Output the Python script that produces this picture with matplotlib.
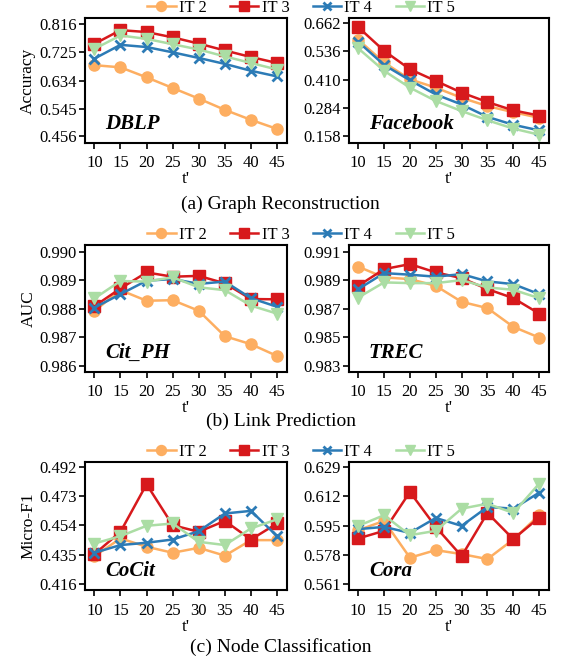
import matplotlib
matplotlib.use("Agg")
import matplotlib.pyplot as plt

plt.rcParams['font.family'] = ['Liberation Serif', 'DejaVu Serif']

t = [10, 15, 20, 25, 30, 35, 40, 45]
series = ['IT 2', 'IT 3', 'IT 4', 'IT 5']

# Graph reconstruction (accuracy)
dblp = {
    'IT 2': [0.684, 0.677, 0.645, 0.611, 0.577, 0.541, 0.509, 0.480],
    'IT 3': [0.752, 0.796, 0.790, 0.773, 0.753, 0.731, 0.710, 0.691],
    'IT 4': [0.705, 0.749, 0.742, 0.725, 0.707, 0.688, 0.666, 0.648],
    'IT 5': [0.736, 0.779, 0.768, 0.751, 0.734, 0.712, 0.691, 0.670],
}
facebook = {
    'IT 2': [0.587, 0.486, 0.411, 0.374, 0.329, 0.292, 0.265, 0.240],
    'IT 3': [0.643, 0.538, 0.456, 0.404, 0.352, 0.310, 0.273, 0.250],
    'IT 4': [0.578, 0.475, 0.407, 0.344, 0.299, 0.244, 0.209, 0.184],
    'IT 5': [0.549, 0.449, 0.374, 0.315, 0.270, 0.229, 0.192, 0.165],
}
# Link prediction (AUC)
cit_ph = {
    'IT 2': [0.98792, 0.98865, 0.98828, 0.98830, 0.98793, 0.98704, 0.98676, 0.98635],
    'IT 3': [0.98809, 0.98871, 0.98927, 0.98912, 0.98915, 0.98889, 0.98834, 0.98833],
    'IT 4': [0.98804, 0.98851, 0.98898, 0.98904, 0.98887, 0.98895, 0.98837, 0.98807],
    'IT 5': [0.98836, 0.98897, 0.98895, 0.98910, 0.98875, 0.98865, 0.98811, 0.98783],
}
trec = {
    'IT 2': [0.98995, 0.98920, 0.98908, 0.98861, 0.98749, 0.98705, 0.98574, 0.98499],
    'IT 3': [0.98861, 0.98978, 0.99013, 0.98955, 0.98915, 0.98838, 0.98775, 0.98667],
    'IT 4': [0.98838, 0.98950, 0.98939, 0.98925, 0.98943, 0.98892, 0.98873, 0.98803],
    'IT 5': [0.98779, 0.98885, 0.98880, 0.98880, 0.98901, 0.98850, 0.98833, 0.98775],
}
# Node classification (Micro-F1)
cocit = {
    'IT 2': [0.4341, 0.4456, 0.4402, 0.4363, 0.4395, 0.4344, 0.4445, 0.4445],
    'IT 3': [0.4354, 0.4499, 0.4808, 0.4542, 0.4499, 0.4570, 0.4449, 0.4553],
    'IT 4': [0.4363, 0.4413, 0.4428, 0.4449, 0.4503, 0.4618, 0.4635, 0.4471],
    'IT 5': [0.4423, 0.4471, 0.4538, 0.4553, 0.4434, 0.4413, 0.4521, 0.4580],
}
cora = {
    'IT 2': [0.5923, 0.5977, 0.5763, 0.5807, 0.5784, 0.5755, 0.5869, 0.6010],
    'IT 3': [0.5875, 0.5919, 0.6145, 0.5942, 0.5772, 0.6023, 0.5871, 0.5996],
    'IT 4': [0.5929, 0.5942, 0.5907, 0.5994, 0.5948, 0.6058, 0.6048, 0.6141],
    'IT 5': [0.5948, 0.6010, 0.5894, 0.5919, 0.6048, 0.6077, 0.6023, 0.6193],
}

colors = {'IT 2': '#fdae61', 'IT 3': '#d7191c', 'IT 4': '#2c7bb6', 'IT 5': '#abdda4'}
markers = {'IT 2': 'o', 'IT 3': 's', 'IT 4': 'x', 'IT 5': 'v'}

panels = [
    # data, name, yticks, yticklabels, ylim, ylabel, rect
    (dblp, 'DBLP', [0.456, 0.545, 0.634, 0.725, 0.816], ['0.456', '0.545', '0.634', '0.725', '0.816'],
     (0.435, 0.835), 'Accuracy', [0.1515, 0.7827, 0.360, 0.190]),
    (facebook, 'Facebook', [0.158, 0.284, 0.410, 0.536, 0.662], ['0.158', '0.284', '0.410', '0.536', '0.662'],
     (0.128, 0.684), None, [0.622, 0.7827, 0.3565, 0.190]),
    (cit_ph, 'Cit_PH', [0.986, 0.987, 0.988, 0.989, 0.990], ['0.986', '0.987', '0.988', '0.989', '0.990'],
     (0.98579, 0.99023), 'AUC', [0.1515, 0.4347, 0.360, 0.193]),
    (trec, 'TREC', [0.983, 0.985, 0.987, 0.989, 0.991], ['0.983', '0.985', '0.987', '0.989', '0.991'],
     (0.98258, 0.99147), None, [0.622, 0.4347, 0.3565, 0.193]),
    (cocit, 'CoCit', [0.416, 0.435, 0.454, 0.473, 0.492], ['0.416', '0.435', '0.454', '0.473', '0.492'],
     (0.4121, 0.4952), 'Micro-F1', [0.1515, 0.1033, 0.360, 0.1945]),
    (cora, 'Cora', [0.561, 0.578, 0.595, 0.612, 0.629], ['0.561', '0.578', '0.595', '0.612', '0.629'],
     (0.5575, 0.6319), None, [0.622, 0.1033, 0.3565, 0.1945]),
]

fig = plt.figure(figsize=(5.61, 6.58), dpi=100)

for data, name, yt, ytl, ylim, ylabel, rect in panels:
    ax = fig.add_axes(rect)
    for s in series:
        ms = 8 if markers[s] != 'x' else 7
        ax.plot(t, data[s], color=colors[s], marker=markers[s], markersize=ms,
                linewidth=1.8, markeredgewidth=2 if markers[s] == 'x' else 1, label=s)
    ax.set_xlim(8.2, 46.9)
    ax.set_ylim(*ylim)
    ax.set_xticks(t)
    ax.set_yticks(yt)
    ax.set_yticklabels(ytl)
    ax.tick_params(labelsize=12, length=4, width=1.2, direction='out', pad=2)
    ax.tick_params(axis='x', pad=5)
    for sp in ax.spines.values():
        sp.set_linewidth(1.5)
    ax.set_xlabel("t'", fontsize=12.5, labelpad=0)
    if ylabel:
        ax.set_ylabel(ylabel, fontsize=12.5, labelpad=2)
    ax.text(0.10, 0.07, name, transform=ax.transAxes, fontsize=15,
            fontweight='bold', fontstyle='italic', ha='left', va='bottom')

handles, labels = fig.axes[0].get_legend_handles_labels()
for y in [0.988, 0.643, 0.313]:
    fig.legend(handles, labels, loc='center', bbox_to_anchor=(0.537, y), ncol=4,
               frameon=False, fontsize=12, handlelength=1.7, columnspacing=1.4,
               handletextpad=0.2, markerscale=0.9)

fig.text(0.5, 1 - 204 / 658, '(a) Graph Reconstruction', ha='center', va='center', fontsize=14)
fig.text(0.5, 1 - 421 / 658, '(b) Link Prediction', ha='center', va='center', fontsize=14)
fig.text(0.5, 1 - 647 / 658, '(c) Node Classification', ha='center', va='center', fontsize=14)

fig.savefig('out.png', dpi=100)
